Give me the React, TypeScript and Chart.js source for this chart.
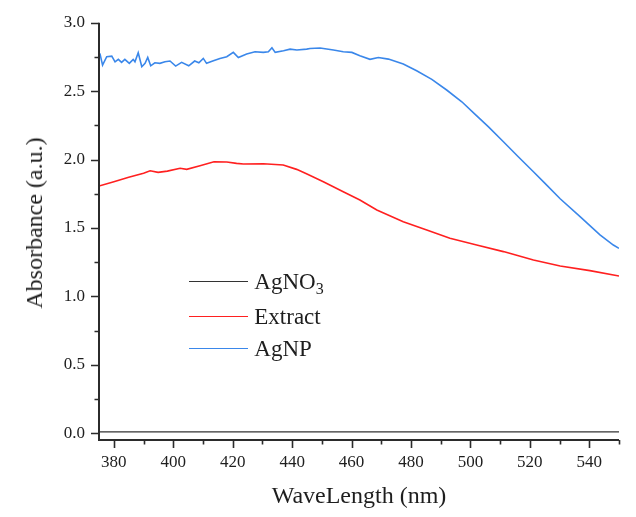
import React, { useEffect, useRef } from "react";
import { Chart, registerables } from "chart.js";

Chart.register(...registerables);

// ---- data ----
const agno3X = [375, 400, 425, 450, 475, 500, 525, 550];
const agno3Y = [0.01, 0.01, 0.01, 0.01, 0.01, 0.01, 0.01, 0.01];

const extractX = [
  375, 380, 385, 390, 392.2, 394.9, 398, 402.3, 404.5, 409, 413.7, 418, 421.3, 423.6,
  430.3, 437, 441.5, 445, 450.5, 457.2, 462.8, 468.5, 477.4, 485.3, 493.1, 502.1,
  511.1, 521.2, 530.2, 540.2, 550,
];
const extractY = [
  1.806, 1.838, 1.87, 1.9, 1.918, 1.906, 1.915, 1.936, 1.928, 1.955, 1.984, 1.982, 1.972,
  1.967, 1.969, 1.96, 1.928, 1.894, 1.838, 1.765, 1.704, 1.631, 1.546, 1.485, 1.424,
  1.375, 1.327, 1.266, 1.222, 1.188, 1.149,
];

const agnpX = [
  375.3, 376.2, 377.6, 379.3, 380.4, 381.5, 382.6, 383.7, 385.2, 386.5, 387.1, 388.2,
  389.4, 390.5, 391.4, 392.4, 393.8, 395.5, 397.2, 398.9, 400.8, 402.8, 405.2, 407.2,
  408.6, 410.1, 411.2, 413.5, 415.7, 418, 420.2, 421.9, 424.7, 427.5, 430.3, 432, 433.2,
  434.3, 437.1, 439.3, 441.6, 444.9, 446, 449.4, 453.9, 457.2, 460.1, 462.8, 466.2, 469,
  472.4, 477.4, 481.9, 487, 492, 497.1, 501.5, 506, 511.1, 516.1, 521.2, 525.1, 530.2,
  536.9, 543.6, 548.1, 550,
];
const agnpY = [
  2.776, 2.69, 2.751, 2.756, 2.714, 2.732, 2.71, 2.732, 2.703, 2.732, 2.714, 2.78, 2.678,
  2.703, 2.746, 2.685, 2.707, 2.703, 2.714, 2.72, 2.683, 2.71, 2.685, 2.72, 2.707, 2.739,
  2.703, 2.722, 2.739, 2.751, 2.783, 2.746, 2.771, 2.788, 2.783, 2.788, 2.817, 2.783,
  2.795, 2.807, 2.8, 2.807, 2.812, 2.815, 2.8, 2.788, 2.783, 2.759, 2.732, 2.746, 2.734,
  2.698, 2.649, 2.586, 2.508, 2.422, 2.332, 2.24, 2.13, 2.02, 1.911, 1.826, 1.713, 1.582,
  1.449, 1.375, 1.351,
];

const xMajorTicks = [380, 400, 420, 440, 460, 480, 500, 520, 540];
const xMinorTicks = [390, 410, 430, 450, 470, 490, 510, 530, 550];
const yMajorTicks = [0, 0.5, 1, 1.5, 2, 2.5, 3];
const yMinorTicks = [0.25, 0.75, 1.25, 1.75, 2.25, 2.75];

const SERIF = "'Liberation Serif', 'DejaVu Serif', serif";
const AXIS_COLOR = "#2b2b2b";
const TEXT_COLOR = "#1e1e1e";

const zip = (xs: number[], ys: number[]) => xs.map((x, i) => ({ x, y: ys[i] }));

const axesPlugin = {
  id: "customAxes",
  afterDatasetsDraw(chart: any) {
    const { ctx, chartArea: a, scales } = chart;
    const xs = scales.x;
    const ys = scales.y;
    ctx.save();
    ctx.strokeStyle = AXIS_COLOR;
    ctx.lineWidth = 2;
    ctx.beginPath();
    ctx.moveTo(a.left, a.top);
    ctx.lineTo(a.left, a.bottom);
    ctx.lineTo(a.right, a.bottom);
    ctx.stroke();
    ctx.lineWidth = 1.6;
    ctx.beginPath();
    for (const v of xMajorTicks) {
      const px = Math.round(xs.getPixelForValue(v)) + 0.5;
      ctx.moveTo(px, a.bottom);
      ctx.lineTo(px, a.bottom + 8);
    }
    for (const v of xMinorTicks) {
      const px = Math.round(xs.getPixelForValue(v)) + 0.5;
      ctx.moveTo(px, a.bottom);
      ctx.lineTo(px, a.bottom + 4.5);
    }
    for (const v of yMajorTicks) {
      const py = Math.round(ys.getPixelForValue(v)) + 0.5;
      ctx.moveTo(a.left, py);
      ctx.lineTo(a.left - 8, py);
    }
    for (const v of yMinorTicks) {
      const py = Math.round(ys.getPixelForValue(v)) + 0.5;
      ctx.moveTo(a.left, py);
      ctx.lineTo(a.left - 4.5, py);
    }
    ctx.stroke();
    ctx.restore();
  },
};

const legendItems = [
  { label: "AgNO", sub: "3", color: "#333333", width: 1.2, top: 273.5 },
  { label: "Extract", sub: "", color: "#ff2020", width: 1.6, top: 308.7 },
  { label: "AgNP", sub: "", color: "#3a87ea", width: 1.6, top: 340.7 },
];

export default function App() {
  const ref = useRef<HTMLCanvasElement>(null);

  useEffect(() => {
    if (!ref.current) return;
    const chart = new Chart(ref.current, {
      type: "scatter",
      data: {
        datasets: [
          {
            label: "AgNO3",
            data: zip(agno3X, agno3Y),
            showLine: true,
            borderColor: "#333333",
            borderWidth: 1.2,
            pointRadius: 0,
          },
          {
            label: "Extract",
            data: zip(extractX, extractY),
            showLine: true,
            borderColor: "#ff2020",
            borderWidth: 1.6,
            pointRadius: 0,
          },
          {
            label: "AgNP",
            data: zip(agnpX, agnpY),
            showLine: true,
            borderColor: "#3a87ea",
            borderWidth: 1.6,
            pointRadius: 0,
          },
        ],
      },
      options: {
        responsive: false,
        animation: false,
        layout: { padding: { top: 14.7, right: 9, left: 0, bottom: 0 } },
        plugins: {
          legend: { display: false },
          tooltip: { enabled: false },
        },
        scales: {
          x: {
            type: "linear",
            min: 375,
            max: 550,
            grid: { display: false, drawTicks: false },
            border: { display: false },
            afterBuildTicks: (scale: any) => {
              scale.ticks = [...xMajorTicks, ...xMinorTicks]
                .sort((p, q) => p - q)
                .map((value) => ({ value }));
            },
            afterFit: (scale: any) => {
              scale.height = 69;
              scale.paddingLeft = 0;
              scale.paddingRight = 0;
            },
            ticks: {
              autoSkip: false,
              maxRotation: 0,
              padding: 12,
              color: TEXT_COLOR,
              font: { family: SERIF, size: 17 },
              callback: (v: any) => (xMajorTicks.includes(Number(v)) ? String(v) : ""),
            },
            title: {
              display: true,
              text: "WaveLength (nm)",
              color: TEXT_COLOR,
              font: { family: SERIF, size: 24, lineHeight: 1 },
              padding: 0,
            },
          },
          y: {
            type: "linear",
            min: -0.05,
            max: 3.0,
            grid: { display: false, drawTicks: false },
            border: { display: false },
            afterBuildTicks: (scale: any) => {
              scale.ticks = [...yMajorTicks, ...yMinorTicks]
                .sort((p, q) => p - q)
                .map((value) => ({ value }));
            },
            afterFit: (scale: any) => {
              scale.width = 91;
              scale.paddingTop = 0;
              scale.paddingBottom = 0;
            },
            ticks: {
              autoSkip: false,
              padding: 14,
              color: TEXT_COLOR,
              font: { family: SERIF, size: 17 },
              callback: (v: any) =>
                yMajorTicks.includes(Number(v)) ? Number(v).toFixed(1) : "",
            },
            title: { display: false },
          },
        },
      },
      plugins: [axesPlugin],
    });
    return () => chart.destroy();
  }, []);

  return (
    <div style={{ position: "relative", width: 620, height: 501 }}>
      <canvas ref={ref} width={620} height={501} style={{ display: "block" }} />
      <div
        style={{
          position: "absolute",
          left: 26,
          top: 215,
          transform: "translate(-50%, -50%) rotate(-90deg)",
          fontFamily: SERIF,
          fontSize: 24,
          lineHeight: 1,
          color: TEXT_COLOR,
          whiteSpace: "nowrap",
        }}
      >
        Absorbance (a.u.)
      </div>
      {legendItems.map((it) => (
        <div
          key={it.label}
          style={{
            position: "absolute",
            left: 181.3,
            top: it.top,
            height: 0,
            display: "flex",
            alignItems: "center",
            fontFamily: SERIF,
            fontSize: 23,
            color: TEXT_COLOR,
            whiteSpace: "nowrap",
          }}
        >
          <span
            style={{
              display: "inline-block",
              width: 59,
              height: 0,
              borderTop: `${it.width}px solid ${it.color}`,
              marginRight: 6,
            }}
          />
          <span style={{ lineHeight: 1 }}>
            {it.label}
            {it.sub ? (
              <span style={{ fontSize: 16, position: "relative", top: 5 }}>{it.sub}</span>
            ) : null}
          </span>
        </div>
      ))}
    </div>
  );
}
